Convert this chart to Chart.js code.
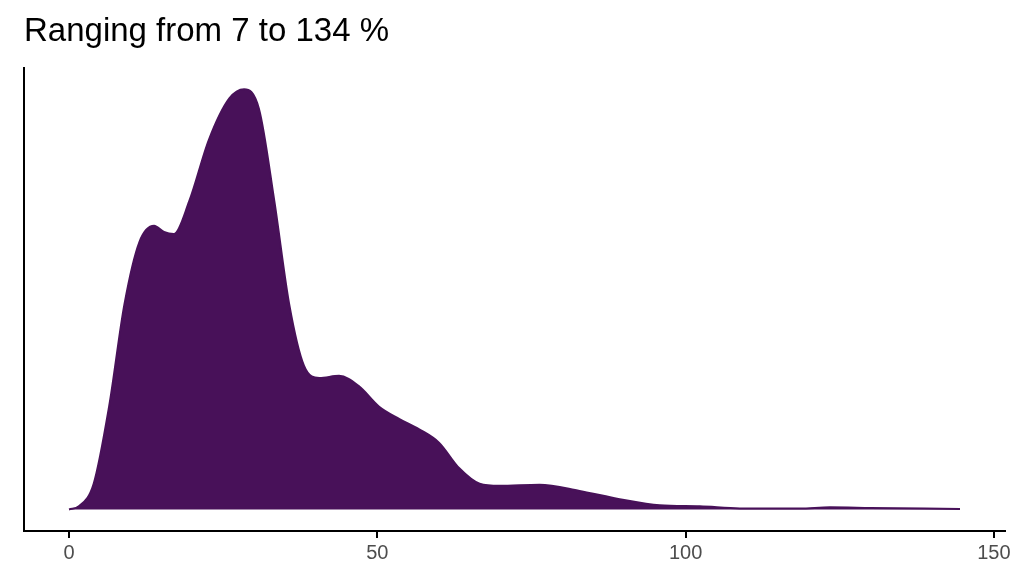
<!DOCTYPE html>
<html>
<head>
<meta charset="utf-8">
<script src="https://cdn.jsdelivr.net/npm/chart.js@4.4.0/dist/chart.umd.min.js"></script>
<style>
  html, body { margin: 0; padding: 0; background: #fff; }
  #wrap { width: 1024px; height: 576px; }
</style>
</head>
<body>
<div id="wrap"><canvas id="density"></canvas></div>
<script>
// density estimate (arbitrary height units)
const xValues = [0, 1.6, 4, 6.5, 9, 11.4, 13.8, 15.4, 17, 19.5, 22.7, 26, 28.4, 30.8, 33.3, 35.7, 38.1, 40.6, 43.8, 47, 50.3, 53.6, 56.8, 60, 63.3, 66.6, 69.8, 76.3, 82.8, 89.3, 95.8, 102.3, 108.8, 118.5, 123.4, 130, 144.5];
const density = [0, 3, 25, 100, 200, 260, 276, 270, 268, 300, 360, 400, 409, 390, 300, 200, 140, 128, 130, 120, 100, 88, 78, 65, 40, 25, 23, 24, 18, 10, 4, 3, 1, 1, 2, 1.5, 0.5];
const xTicks = [0, 50, 100, 150];

const points = xValues.map((x, i) => ({ x: x, y: density[i] }));

new Chart(document.getElementById('density'), {
  type: 'line',
  data: {
    datasets: [{
      data: points,
      borderColor: '#481159',
      backgroundColor: '#481159',
      borderWidth: 2,
      fill: 'origin',
      pointRadius: 0,
      tension: 0.4,
      cubicInterpolationMode: 'monotone'
    }]
  },
  options: {
    responsive: true,
    maintainAspectRatio: false,
    animation: false,
    layout: { padding: { left: 24, right: 19, top: 8, bottom: 8 } },
    plugins: {
      legend: { display: false },
      tooltip: { enabled: false },
      title: {
        display: true,
        text: 'Ranging from 7 to 134 %',
        align: 'start',
        color: '#000',
        font: { family: 'Liberation Sans', size: 33, weight: 'normal' },
        padding: { top: 4, bottom: 16 }
      }
    },
    scales: {
      x: {
        type: 'linear',
        min: -7.3,
        max: 151.8,
        afterBuildTicks: (scale) => { scale.ticks = xTicks.map(v => ({ value: v })); },
        grid: { drawOnChartArea: false, drawTicks: true, tickLength: 7, color: '#000', lineWidth: 2 },
        border: { display: true, color: '#000', width: 2 },
        ticks: { color: '#4d4d4d', font: { family: 'Liberation Sans', size: 20 }, padding: 3 }
      },
      y: {
        min: -21,
        max: 430,
        afterFit: (scale) => { scale.width = 0; },
        grid: { display: false },
        border: { display: true, color: '#000', width: 2 },
        ticks: { display: false }
      }
    }
  }
});
</script>
</body>
</html>
